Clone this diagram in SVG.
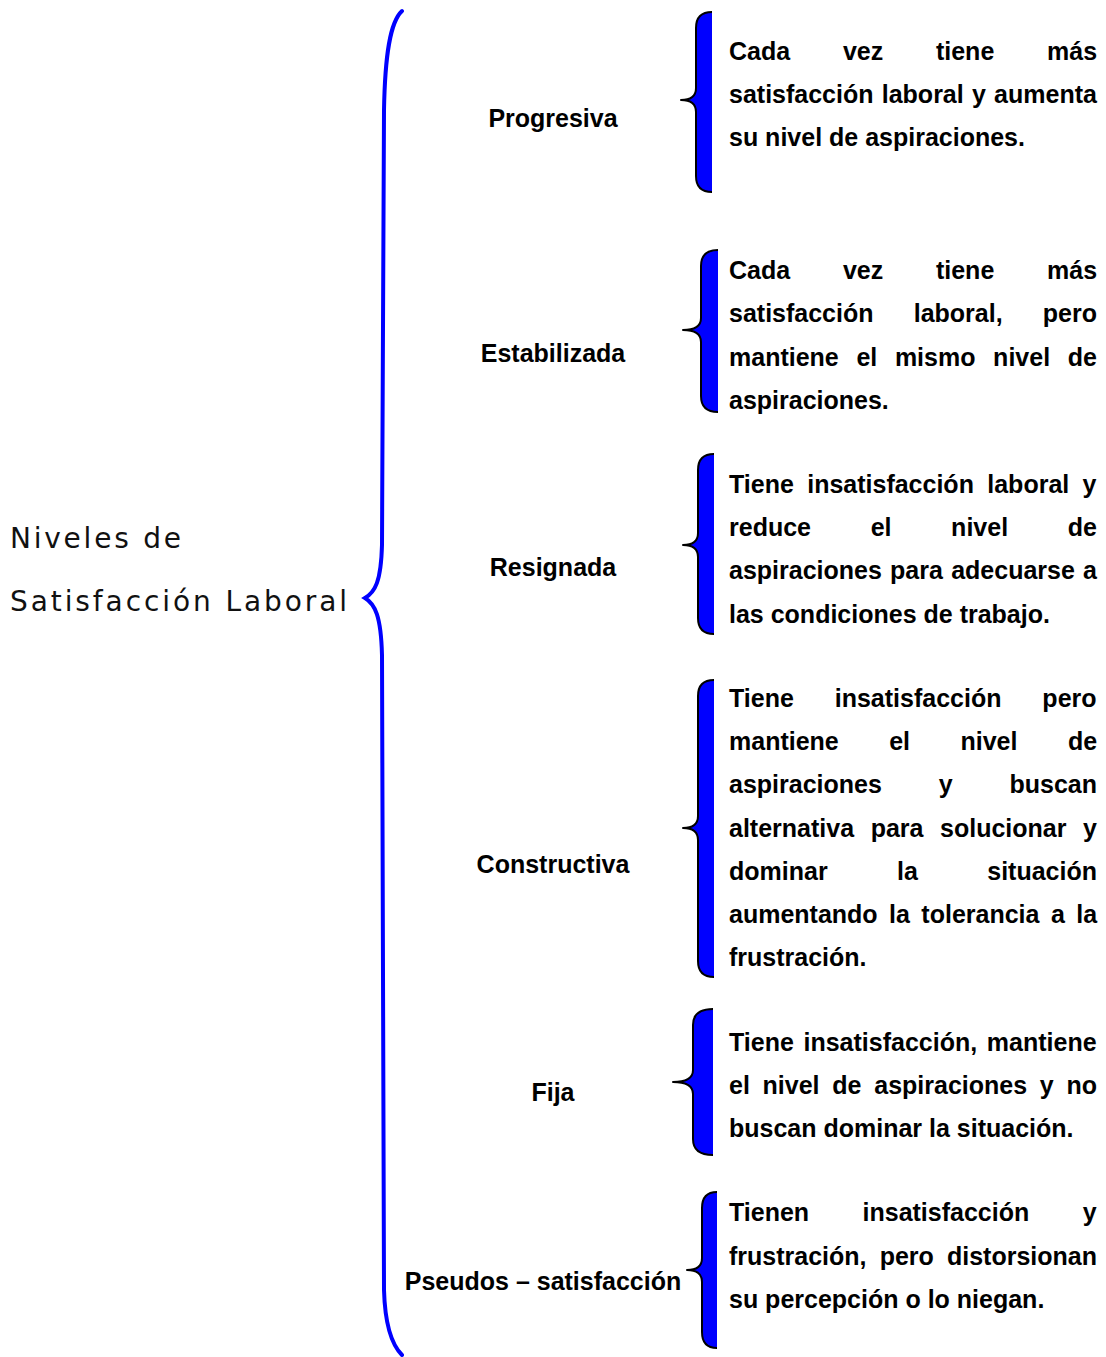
<svg xmlns="http://www.w3.org/2000/svg" width="1106" height="1357" viewBox="0 0 1106 1357">
<style>
.root{font-family:"DejaVu Sans","Liberation Sans",sans-serif;font-size:28px;fill:#111;}
.lbl{font-family:"Liberation Sans",Arial,sans-serif;font-size:25px;font-weight:bold;fill:#000;text-anchor:middle;}
.desc{font-family:"Liberation Sans",Arial,sans-serif;font-size:25px;font-weight:bold;fill:#000;}
.big{fill:none;stroke:#0000ff;stroke-width:4;stroke-linecap:round;}
.br{fill:#0000ff;stroke:#000;stroke-width:2;stroke-linejoin:round;}
</style>
<rect width="1106" height="1357" fill="#fff"/>
<g id="root">
<text class="root" x="10" y="548" textLength="171" lengthAdjust="spacing">Niveles de</text>
<text class="root" x="10" y="611" textLength="337" lengthAdjust="spacing">Satisfacción Laboral</text>
</g>
<g id="connectors">
<path class="big" d="M402,11 C390,22 385,55 384,110 L382,545 C381,582 375,592 365,598 C375,604 381,616 382,655 L384,1290 C385,1325 392,1345 402,1355"/>
<path class="br" d="M712,12 Q696,12 696,28 L696,88 Q696,100 681,100 Q696,100 696,112 L696,176 Q696,192 712,192"/>
<path class="br" d="M718,250 Q701,250 701,266 L701,318 Q701,330 683,330 Q701,330 701,342 L701,396 Q701,412 718,412"/>
<path class="br" d="M714,454 Q698,454 698,470 L698,533 Q698,545 683,545 Q698,545 698,557 L698,618 Q698,634 714,634"/>
<path class="br" d="M714,680 Q698,680 698,696 L698,816 Q698,828 683,828 Q698,828 698,840 L698,961 Q698,977 714,977"/>
<path class="br" d="M713,1009 Q693,1009 693,1025 L693,1070 Q693,1082 673,1082 Q693,1082 693,1094 L693,1139 Q693,1155 713,1155"/>
<path class="br" d="M717,1192 Q702,1192 702,1208 L702,1258 Q702,1270 687,1270 Q702,1270 702,1282 L702,1332 Q702,1348 717,1348"/>
</g>
<g id="progresiva">
<text class="lbl" x="553" y="127">Progresiva</text>
<text class="desc" x="729" y="60" word-spacing="45.8">Cada vez tiene más</text>
<text class="desc" x="729" y="103" word-spacing="1.3">satisfacción laboral y aumenta</text>
<text class="desc" x="729" y="146">su nivel de aspiraciones.</text>
</g>
<g id="estabilizada">
<text class="lbl" x="553" y="362">Estabilizada</text>
<text class="desc" x="729" y="279" word-spacing="45.8">Cada vez tiene más</text>
<text class="desc" x="729" y="322" word-spacing="33.25">satisfacción laboral, pero</text>
<text class="desc" x="729" y="366" word-spacing="10.7">mantiene el mismo nivel de</text>
<text class="desc" x="729" y="409">aspiraciones.</text>
</g>
<g id="resignada">
<text class="lbl" x="553" y="576">Resignada</text>
<text class="desc" x="729" y="493" word-spacing="6.4">Tiene insatisfacción laboral y</text>
<text class="desc" x="729" y="536" word-spacing="52.7">reduce el nivel de</text>
<text class="desc" x="729" y="579" word-spacing="1.3">aspiraciones para adecuarse a</text>
<text class="desc" x="729" y="623">las condiciones de trabajo.</text>
</g>
<g id="constructiva">
<text class="lbl" x="553" y="873">Constructiva</text>
<text class="desc" x="729" y="707" word-spacing="33.95">Tiene insatisfacción pero</text>
<text class="desc" x="729" y="750" word-spacing="43.5">mantiene el nivel de</text>
<text class="desc" x="729" y="793" word-spacing="49.9">aspiraciones y buscan</text>
<text class="desc" x="729" y="837" word-spacing="9.65">alternativa para solucionar y</text>
<text class="desc" x="729" y="880" word-spacing="62.45">dominar la situación</text>
<text class="desc" x="729" y="923" word-spacing="4.5">aumentando la tolerancia a la</text>
<text class="desc" x="729" y="966">frustración.</text>
</g>
<g id="fija">
<text class="lbl" x="553" y="1101">Fija</text>
<text class="desc" x="729" y="1051" word-spacing="2.7">Tiene insatisfacción, mantiene</text>
<text class="desc" x="729" y="1094" word-spacing="5.8">el nivel de aspiraciones y no</text>
<text class="desc" x="729" y="1137">buscan dominar la situación.</text>
</g>
<g id="pseudos">
<text class="lbl" x="543" y="1290">Pseudos – satisfacción</text>
<text class="desc" x="729" y="1221" word-spacing="46.45">Tienen insatisfacción y</text>
<text class="desc" x="729" y="1265" word-spacing="6.2">frustración, pero distorsionan</text>
<text class="desc" x="729" y="1308">su percepción o lo niegan.</text>
</g>
</svg>
